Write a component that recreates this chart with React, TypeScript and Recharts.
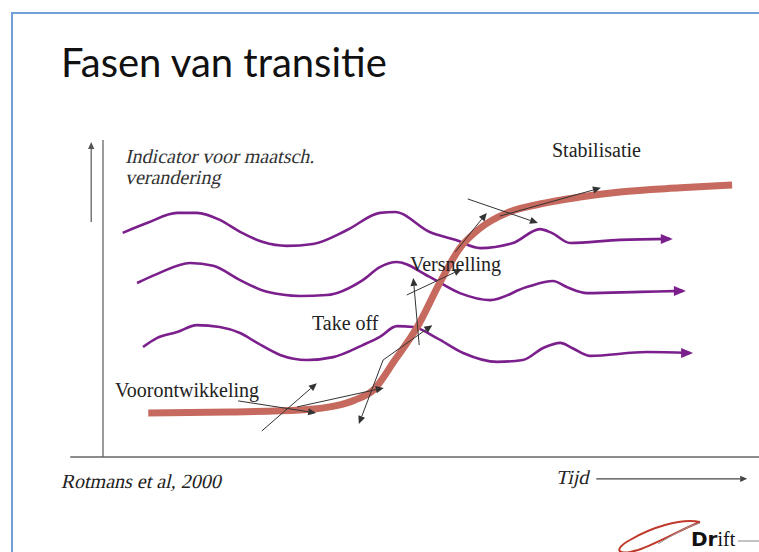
import React from "react";
import { ComposedChart, Line, XAxis, YAxis, ReferenceLine } from "recharts";

// time (0-100) / indicator (0-100) pairs
const sCurve: [number, number][] = [
  [6.9, 13.9], [19.4, 14.2], [30.0, 14.8], [35.4, 16.1], [38.4, 18.0], [41.2, 21.1],
  [44.5, 30.6], [47.9, 41.0], [51.4, 55.2], [54.4, 65.9], [57.5, 72.2], [61.6, 77.0],
  [66.6, 79.8], [72.7, 82.0], [78.8, 83.6], [88.0, 84.9], [95.9, 85.8]
];

const wave1: [number, number][] = [
  [3.0, 70.7], [6.7, 73.8], [11.3, 77.0], [14.3, 77.0], [17.8, 74.8], [20.9, 71.0],
  [24.4, 67.8], [28.0, 66.6], [32.0, 67.2], [37.2, 71.6], [42.2, 77.0], [44.5, 77.3],
  [49.8, 71.0], [53.7, 68.5], [57.5, 65.9], [62.5, 67.5], [66.6, 71.9], [68.4, 70.7],
  [71.2, 67.5], [78.8, 68.5], [86.4, 68.8]
];

const wave2: [number, number][] = [
  [5.2, 54.9], [8.2, 57.7], [13.3, 61.2], [16.8, 60.3], [20.9, 55.8], [25.0, 52.1],
  [30.0, 50.8], [34.1, 51.1], [39.6, 55.8], [42.2, 59.9], [44.8, 61.5], [49.8, 56.8],
  [54.4, 51.7], [59.0, 49.5], [64.6, 53.6], [68.6, 55.5], [70.7, 53.6], [73.8, 51.7],
  [81.9, 52.1], [88.4, 52.4]
];

const wave3: [number, number][] = [
  [6.1, 34.7], [8.2, 37.5], [11.3, 39.4], [14.3, 41.6], [17.8, 41.0], [20.9, 39.1],
  [23.5, 36.0], [27.0, 32.2], [31.1, 30.6], [35.1, 31.5], [39.6, 35.3], [42.2, 37.9],
  [44.8, 41.3], [47.3, 41.0], [50.9, 37.5], [54.9, 32.8], [60.1, 30.0], [64.0, 30.6],
  [67.1, 34.4], [69.7, 36.0], [71.5, 34.4], [74.2, 31.9], [82.9, 33.1], [89.5, 32.8]
];

// small black arrows: [fromT, fromV, toT, toV]
const arrows: [number, number, number, number][] = [
  [20.6, 17.7, 32.5, 13.9],
  [24.2, 8.2, 32.6, 23.3],
  [29.6, 15.8, 42.8, 21.8],
  [42.7, 30.6, 39.0, 10.4],
  [42.7, 30.6, 50.2, 41.6],
  [48.2, 35.3, 47.3, 56.5],
  [46.3, 51.1, 54.7, 59.3],
  [53.7, 64.7, 58.5, 77.0],
  [55.6, 81.4, 66.3, 73.8],
  [60.5, 76.0, 75.9, 84.9]
];

const toRows = (pts: [number, number][]) => pts.map(([t, v]) => ({ t, v }));

const serif = "'Liberation Serif'";

const arrowShape = (size: number, color: string, width: number) => (props: any) => {
  const { x1, y1, x2, y2 } = props;
  const a = Math.atan2(y2 - y1, x2 - x1);
  const bx = x2 - size * Math.cos(a);
  const by = y2 - size * Math.sin(a);
  const hw = size * 0.45;
  const p1 = `${bx + hw * Math.sin(a)},${by - hw * Math.cos(a)}`;
  const p2 = `${bx - hw * Math.sin(a)},${by + hw * Math.cos(a)}`;
  return (
    <g>
      <line x1={x1} y1={y1} x2={bx} y2={by} stroke={color} strokeWidth={width} />
      <polygon points={`${x2},${y2} ${p1} ${p2}`} fill={color} />
    </g>
  );
};

const plainLine = (color: string, width: number) => (props: any) => (
  <line x1={props.x1} y1={props.y1} x2={props.x2} y2={props.y2} stroke={color} strokeWidth={width} />
);

const waveHead = (last: number) => (props: any) => {
  const { cx, cy, index } = props;
  if (index !== last) return <g key={`d${index}`} />;
  return (
    <path
      key={`d${index}`}
      d={`M${cx + 3},${cy} L${cx - 9},${cy - 5} L${cx - 9},${cy + 5} Z`}
      fill="#7B1F8C"
    />
  );
};

// italic look made by slanting the upright serif face
const slant = { display: "inline-block", transform: "skewX(-13deg)", transformOrigin: "0 100%" } as const;

const label = (text: string, left: number, top: number, size: number, italic = false) => (
  <div
    style={{
      position: "absolute",
      left,
      top,
      fontFamily: serif,
      fontSize: size,
      lineHeight: `${size}px`,
      color: "#222",
      whiteSpace: "nowrap"
    }}
  >
    {italic ? <span style={slant}>{text}</span> : text}
  </div>
);

export default function App() {
  const waves = [wave1, wave2, wave3];
  return (
    <div style={{ position: "absolute", left: 0, top: 0, width: 759, height: 552, background: "#fff", overflow: "hidden" }}>
      <div style={{ position: "absolute", left: 11, top: 12, width: 760, height: 560, borderLeft: "2px solid #6FA0D8", borderTop: "2px solid #6FA0D8" }} />
      <div
        style={{
          position: "absolute",
          left: 61,
          top: 42,
          fontFamily: "Lato, 'Open Sans', sans-serif",
          fontSize: 40,
          lineHeight: "40px",
          color: "#111"
        }}
      >
        Fasen van transitie
      </div>

      <div style={{ position: "absolute", left: 0, top: 0 }}>
        <ComposedChart width={759} height={552} margin={{ top: 140, right: 0, bottom: 95, left: 103 }}>
          <XAxis type="number" dataKey="t" domain={[0, 100]} hide height={0} allowDataOverflow />
          <YAxis type="number" dataKey="v" domain={[0, 100]} hide width={0} allowDataOverflow />
          <ReferenceLine ifOverflow="visible" segment={[{ x: -5, y: 0 }, { x: 100, y: 0 }]}
            shape={plainLine("#666", 1.3)} />
          <ReferenceLine ifOverflow="visible" segment={[{ x: 0, y: 0 }, { x: 0, y: 100 }]}
            shape={plainLine("#666", 1.3)} />
          <ReferenceLine ifOverflow="visible" segment={[{ x: -1.8, y: 74.1 }, { x: -1.8, y: 99.4 }]}
            shape={arrowShape(7, "#555", 1.2)} />
          <ReferenceLine ifOverflow="visible" segment={[{ x: 75.2, y: -6.9 }, { x: 98.2, y: -6.9 }]}
            shape={arrowShape(7, "#444", 1.1)} />
          {waves.map((w, i) => (
            <Line
              key={`w${i}`}
              data={toRows(w)}
              dataKey="v"
              type="monotone"
              stroke="#7B1F8C"
              strokeWidth={2.6}
              dot={waveHead(w.length - 1)}
              activeDot={false}
              isAnimationActive={false}
            />
          ))}
          <Line
            data={toRows(sCurve)}
            dataKey="v"
            type="monotone"
            stroke="#C66A5F"
            strokeWidth={7}
            dot={false}
            activeDot={false}
            isAnimationActive={false}
          />
          {arrows.map((a, i) => (
            <ReferenceLine
              key={`a${i}`}
              ifOverflow="visible"
              segment={[{ x: a[0], y: a[1] }, { x: a[2], y: a[3] }]}
              shape={arrowShape(8, "#333", 1)}
            />
          ))}
        </ComposedChart>
      </div>

      <div
        style={{
          position: "absolute",
          left: 124,
          top: 146,
          fontFamily: serif,
          fontSize: 20,
          lineHeight: "21px",
          color: "#333"
        }}
      >
        <span style={slant}>Indicator voor maatsch.</span>
        <br />
        <span style={slant}>verandering</span>
      </div>
      {label("Stabilisatie", 552, 140, 20)}
      {label("Versnelling", 410, 254, 20)}
      {label("Take off", 312, 313, 20)}
      {label("Voorontwikkeling", 115, 380, 20)}
      {label("Rotmans et al, 2000", 60, 471, 20, true)}
      {label("Tijd", 555, 467, 20, true)}

      <svg width={160} height={40} style={{ position: "absolute", left: 600, top: 512 }}>
        <path d="M100,10 C80,6 50,16 30,28 C12,38 18,44 38,38 C58,31 82,17 100,10" fill="none" stroke="#C0392B" strokeWidth={2} />
        <path d="M58,32 C74,22 88,14 100,11" fill="none" stroke="#999" strokeWidth={1} />
        <text x={91} y={34} fontSize={20} fill="#111">
          <tspan fontFamily="'DejaVu Sans'" fontWeight="bold">Dr</tspan>
          <tspan fontFamily={serif}>ift</tspan>
        </text>
        <line x1={138} y1={29} x2={159} y2={29} stroke="#888" strokeWidth={1} />
      </svg>
    </div>
  );
}
